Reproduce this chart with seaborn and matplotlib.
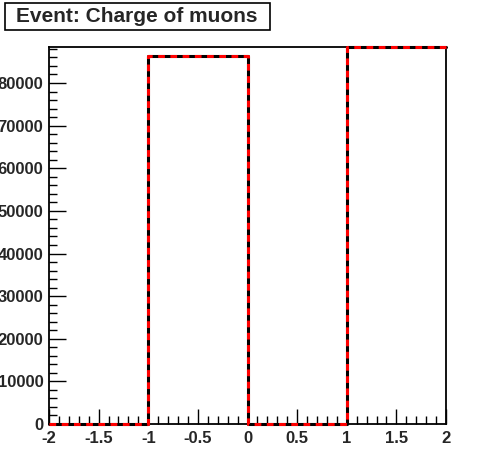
# ==== Imports ====
import numpy as np
import pandas as pd
import seaborn as sns
import matplotlib.pyplot as plt
from matplotlib.patches import Rectangle
from matplotlib.ticker import MultipleLocator

# ==== Data ====
bin_edges = [-2, -1, 0, 1, 2]
bin_centers = [-1.5, -0.5, 0.5, 1.5]
counts = [0, 86380, 0, 88450]
title = "Event: Charge of muons"

df = pd.DataFrame({"charge": bin_centers, "entries": counts})

# ==== Plot ====
sns.set_style("ticks")
plt.rcParams['font.family'] = ['Liberation Sans', 'DejaVu Sans']
plt.rcParams['font.weight'] = 'bold'

fig = plt.figure(figsize=(4.96, 4.72), dpi=100)
ax = fig.add_axes([49 / 496, 48 / 472, 397 / 496, 377 / 472])

# black solid histogram, red dashed copy drawn on top
sns.histplot(data=df, x="charge", weights="entries", bins=bin_edges,
             element="step", fill=False, color="black", linewidth=2.2, ax=ax)
sns.histplot(data=df, x="charge", weights="entries", bins=bin_edges,
             element="step", fill=False, color="red", linewidth=2.2,
             linestyle=(0, (2.2, 1.8)), ax=ax)
for ln in ax.lines:
    ln.set_clip_on(False)
    ln.set_zorder(5)

ax.set_xlim(-2, 2)
ax.set_ylim(0, max(counts))
ax.set_xlabel("")
ax.set_ylabel("")

ax.xaxis.set_major_locator(MultipleLocator(0.5))
ax.xaxis.set_minor_locator(MultipleLocator(0.1))
ax.yaxis.set_major_locator(MultipleLocator(10000))
ax.yaxis.set_minor_locator(MultipleLocator(2000))
ax.xaxis.set_major_formatter(lambda v, p: f"{v:g}")

ax.tick_params(axis="both", which="both", direction="in", width=1, color="black",
               labelsize=12, top=False, right=False)
ax.tick_params(axis="x", which="major", length=11, pad=5)
ax.tick_params(axis="x", which="minor", length=6)
ax.tick_params(axis="y", which="major", length=12, pad=4)
ax.tick_params(axis="y", which="minor", length=6)
for lab in ax.get_xticklabels() + ax.get_yticklabels():
    lab.set_fontweight("bold")

for sp in ax.spines.values():
    sp.set_visible(True)
    sp.set_linewidth(1.3)
    sp.set_color("black")
    sp.set_zorder(0)

# title box, top-left
fig.patches.append(Rectangle((5 / 496, 1 - 30 / 472), 265 / 496, 27 / 472,
                             transform=fig.transFigure, fill=False,
                             edgecolor="black", linewidth=1.2))
fig.text(137 / 496, 1 - 16 / 472, title, ha="center", va="center",
         fontsize=15, fontweight="bold")

fig.savefig("out.png", dpi=100)
